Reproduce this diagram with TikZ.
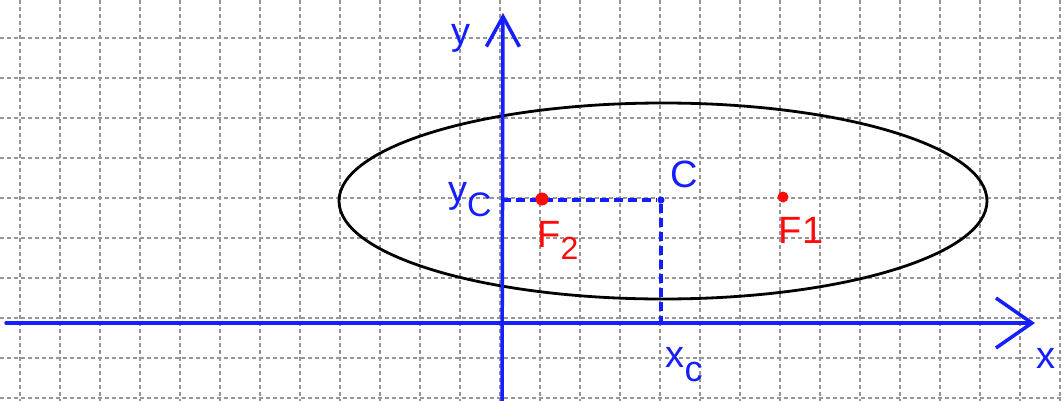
\documentclass[tikz,border=0pt]{standalone}
\usepackage{fontspec}
\setmainfont{Liberation Sans}
\usetikzlibrary{arrows.meta}
\definecolor{penblue}{RGB}{20,30,255}
\definecolor{penred}{RGB}{255,10,10}
\definecolor{gridgray}{RGB}{150,150,150}
\tikzset{
  gridline/.style={gridgray, line width=1.2pt, dash pattern=on 4pt off 3pt},
  axis/.style={penblue, line width=3.5pt, line cap=round, line join=round},
  guide/.style={penblue, line width=3.4pt, dash pattern=on 9pt off 5pt},
  curve/.style={black, line width=2.8pt},
  pentext/.style={font=\fontsize{38}{40}\selectfont, inner sep=0pt},
  bluetext/.style={pentext, text=penblue},
  redtext/.style={pentext, text=penred},
  dotmark/.style={circle, inner sep=0pt, minimum size=#1, fill}
}
\begin{document}
\begin{tikzpicture}[x=1pt,y=-1pt]
\useasboundingbox (0,0) rectangle (1064,401);
\fill[white] (0,0) rectangle (1064,401);
% grid (40 pt cells)
\foreach \gx in {20,60,100,140,180,220,260,300,340,380,420,460,500,540,580,620,660,700,740,780,820,860,900,940,980,1020,1060}
  \draw[gridline] (\gx,0) -- (\gx,401);
\foreach \gy in {38,78,118,158,198,238,278,318,358,398}
  \draw[gridline] (0,\gy) -- (1064,\gy);
% ellipse
\draw[curve] (663,201) ellipse [x radius=324pt, y radius=98pt];
% axes
\coordinate (xstart) at (6,323);
\coordinate (xend) at (1035,323);
\coordinate (ystart) at (502,401);
\coordinate (yend) at (503,13);
\draw[axis, -{Straight Barb[length=36pt,width=50pt,line width=3.5pt]}] (xstart) -- (xend);
\draw[axis, -{Straight Barb[length=30pt,width=33pt,line width=3.5pt]}] (ystart) -- (yend);
\node[bluetext] (ylab) at (461,38) {y};
\node[bluetext] (xlab) at (1046,358) {x};
% centre and guides
\node[dotmark=7pt, penblue] (C) at (661,200) {};
\coordinate (ycfoot) at (502,200);
\coordinate (xcfoot) at (661,323);
\draw[guide] (ycfoot) -- (C);
\draw[guide] (C) -- (xcfoot);
\node[bluetext] (Clab) at (684,174) {C};
\node[bluetext] (yclab) at (470,200) {y\raisebox{-14pt}{\fontsize{34}{36}\selectfont C}};
\node[bluetext] (xclab) at (684,365) {x\raisebox{-14pt}{\fontsize{36}{38}\selectfont c}};
% foci
\node[dotmark=13pt, penred] (F2) at (542,199) {};
\node[dotmark=11pt, penred] (F1) at (783,197) {};
\node[redtext] (F2lab) at (558,240) {F\raisebox{-12pt}{\fontsize{32}{34}\selectfont 2}};
\node[redtext] (F1lab) at (801,230) {F1};
\end{tikzpicture}
\end{document}
